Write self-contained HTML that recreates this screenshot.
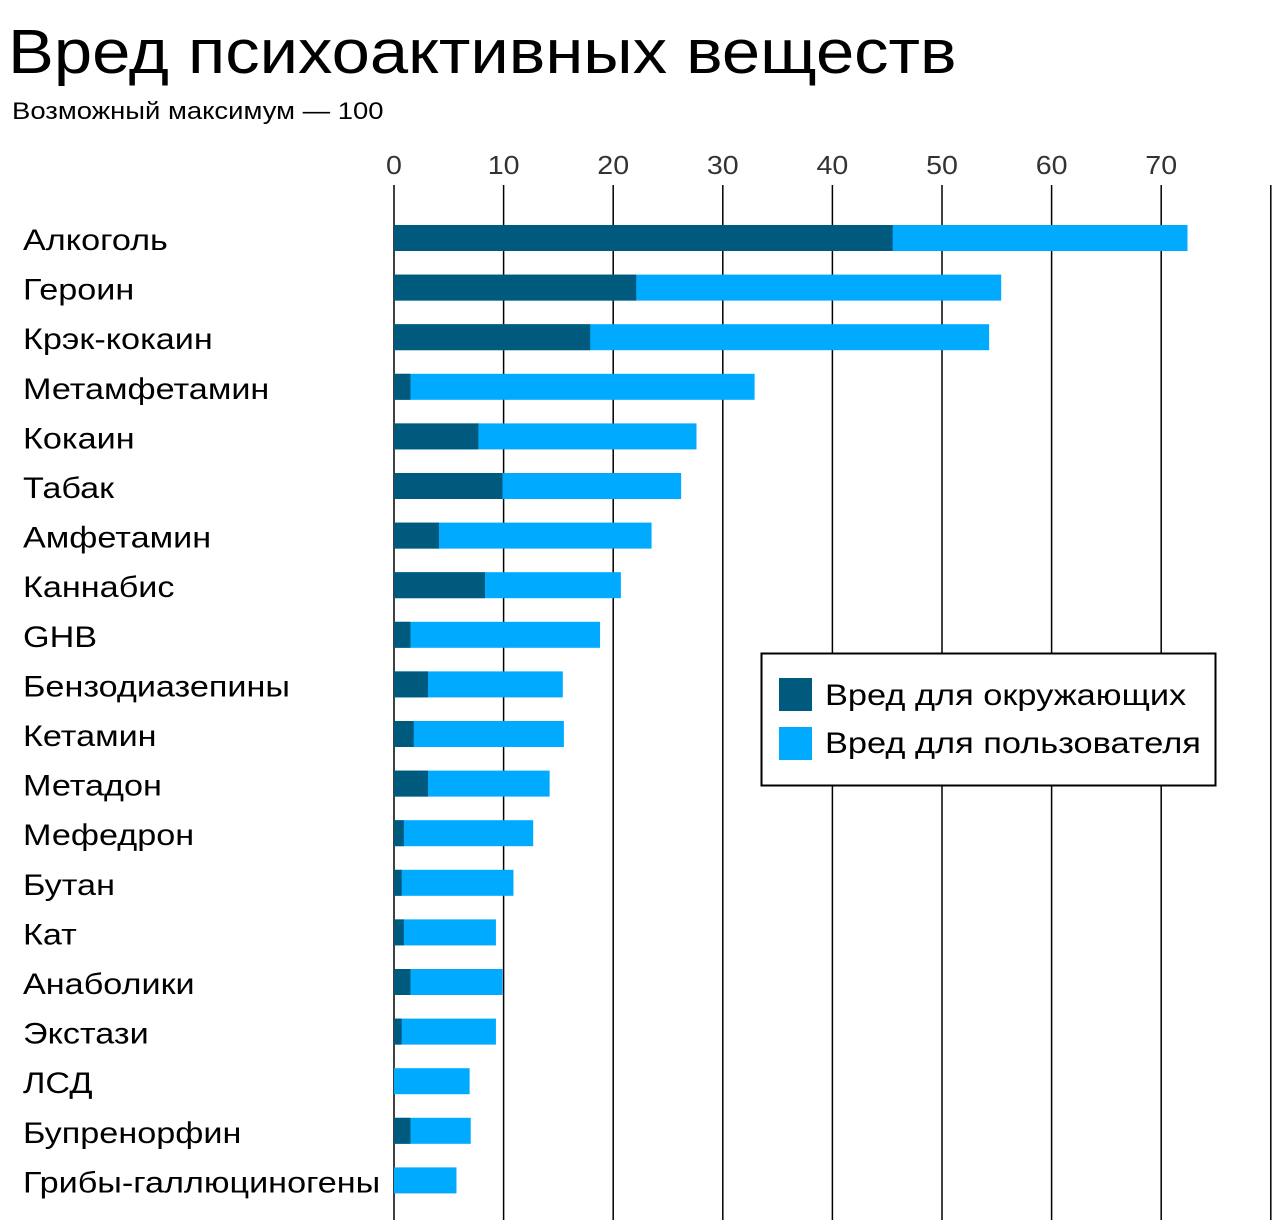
<!DOCTYPE html>
<html><head><meta charset="utf-8"><style>
body{margin:0;background:#fff;width:1280px;height:1220px;overflow:hidden}
svg{display:block;font-family:"Liberation Sans","DejaVu Sans",sans-serif}
</style></head><body>
<svg id="chart" width="1280" height="1220" viewBox="0 0 1280 1220">
<text transform="translate(8,73) scale(1.109,1)" font-size="62" fill="#000">Вред психоактивных веществ</text>
<text transform="translate(12,119) scale(1.145,1)" font-size="24" fill="#000">Возможный максимум — 100</text>
<g id="grid"></g><g id="bars"></g><g id="labels"></g>
<g>
<rect x="761.5" y="653.5" width="454" height="132" fill="#fff" stroke="#000" stroke-width="2"/>
<rect x="779" y="678" width="33" height="33" fill="#005a7e"/>
<text transform="translate(825,705) scale(1.146,1)" font-size="30">Вред для окружающих</text>
<rect x="779" y="727" width="33" height="33" fill="#00aaff"/>
<text transform="translate(825,753) scale(1.146,1)" font-size="30">Вред для пользователя</text>
</g>
</svg>
<script>
const categories=["Алкоголь","Героин","Крэк-кокаин","Метамфетамин","Кокаин","Табак","Амфетамин","Каннабис","GHB","Бензодиазепины","Кетамин","Метадон","Мефедрон","Бутан","Кат","Анаболики","Экстази","ЛСД","Бупренорфин","Грибы-галлюциногены"];
const othersHarm=[45.5,22.1,17.9,1.5,7.7,9.9,4.1,8.3,1.5,3.1,1.8,3.1,0.9,0.7,0.9,1.5,0.7,0,1.5,0];
const totalHarm=[72.4,55.4,54.3,32.9,27.6,26.2,23.5,20.7,18.8,15.4,15.5,14.2,12.7,10.9,9.3,9.9,9.3,6.9,7.0,5.7];
const ticks=[0,10,20,30,40,50,60,70,80];
const tickLabels=["0","10","20","30","40","50","60","70",""];
const NS="http://www.w3.org/2000/svg";
const x=v=>394+v*10.96;
const rowY=i=>238+i*49.6;
function mk(t,a,p){const e=document.createElementNS(NS,t);for(const k in a)e.setAttribute(k,a[k]);p.appendChild(e);return e;}
const grid=document.getElementById('grid'),bars=document.getElementById('bars'),labels=document.getElementById('labels');
ticks.forEach((t,i)=>{
 const l=mk('line',{x1:x(t),x2:x(t),y1:185,y2:1220,stroke:'#000','stroke-width':1.5},grid);
 
 
 if(tickLabels[i]){const tx=mk('text',{transform:'translate('+x(t)+',174) scale(1.1,1)','font-size':26,fill:'#333','text-anchor':'middle'},grid);tx.textContent=tickLabels[i];
 
 }
});
categories.forEach((c,i)=>{
 const y=rowY(i);
 const u=mk('rect',{x:x(0),y:y-13,width:x(totalHarm[i])-x(0),height:26,fill:'#00aaff'},bars);
 
 
 const o=mk('rect',{x:x(0),y:y-13,width:x(othersHarm[i])-x(0),height:26,fill:'#005a7e'},bars);
 
 
 const t=mk('text',{transform:'translate(23,'+(y+12)+') scale(1.14,1)','font-size':30,fill:'#000'},labels);t.textContent=c;
 
 
});
</script>
</body></html>
